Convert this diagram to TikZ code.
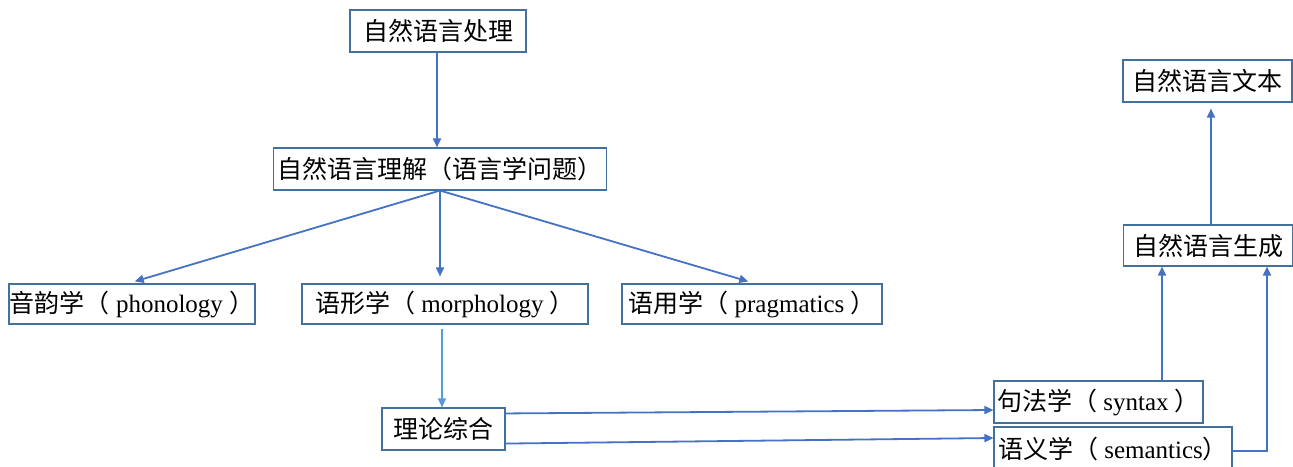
\documentclass[tikz,border=0pt]{standalone}
\usepackage{fontspec}
\setmainfont{Liberation Serif}
\newfontfamily\cjk{Noto Sans CJK SC}
\usetikzlibrary{arrows.meta,calc}
\definecolor{boxblue}{HTML}{41719C}
\definecolor{arrblue}{HTML}{4472C4}
\definecolor{lightblue}{HTML}{5B9BD5}
\tikzset{
  box/.style={draw=boxblue, line width=1.1pt, inner sep=0pt, fill=white,
    font=\fontsize{25}{29}\selectfont, minimum height=42pt},
  arr/.style={draw=arrblue, line width=1.8pt, -{Triangle[length=9pt,width=8pt]}},
}
\begin{document}
\begin{tikzpicture}[x=1pt,y=-1pt]
\clip (0,0) rectangle (1293,466);
\fill[white] (0,0) rectangle (1293,466);
\node[box, minimum width=176pt] (nlp) at (438,31) {\cjk 自然语言处理};
\node[box, minimum width=333pt] (nlu) at (440,169) {\cjk 自然语言理解（语言学问题）};
\node[box, minimum width=246pt, minimum height=40pt] (pho) at (132,304) {{\cjk 音韵学（} phonology {\cjk ）}};
\node[box, minimum width=286pt, minimum height=40pt] (mor) at (445,304) {{\cjk 语形学（} morphology {\cjk ）}};
\node[box, minimum width=260pt, minimum height=40pt] (pra) at (752,304) {{\cjk 语用学（} pragmatics {\cjk ）}};
\node[box, minimum width=123pt] (the) at (443.5,429) {\cjk 理论综合};
\node[box, minimum width=209pt] (syn) at (1098.5,402) {{\cjk 句法学（} syntax {\cjk ）}};
\node[box, minimum width=238pt, minimum height=44pt] (sem) at (1113,449) {{\cjk 语义学（} semantics{\cjk ）}};
\node[box, minimum width=169pt] (txt) at (1207.5,81) {\cjk 自然语言文本};
\node[box, minimum width=169pt, minimum height=41pt] (gen) at (1208,245.5) {\cjk 自然语言生成};

\draw[arr] (nlp.south -| 437,0) -- (nlu.north -| 437,0);
\draw[arr, shorten >=7pt] (nlu.south) -- ($(pho.north)+(-4,0)$);
\draw[arr, shorten >=7pt] (nlu.south) -- (nlu.south |- mor.north);
\draw[arr, shorten >=7pt] (nlu.south) -- ($(pra.north)+(3,0)$);
\draw[arr, draw=lightblue, line width=1.4pt, shorten <=4pt] (mor.south -| 442,0) -- (the.north -| 442,0);
\draw[arr] ($(the.north east)+(0,6)$) -- ($(syn.west)+(0,8)$);
\draw[arr] ($(the.south east)+(0,-7)$) -- ($(sem.west)+(0,-11)$);
\draw[arr] (syn.north -| 1162,0) -- (gen.south -| 1162,0);
\draw[arr] ($(sem.east)+(0,2)$) -| ($(gen.south)+(59,0)$);
\draw[arr, shorten >=6pt] (gen.north -| 1211,0) -- (txt.south -| 1211,0);
\end{tikzpicture}
\end{document}
